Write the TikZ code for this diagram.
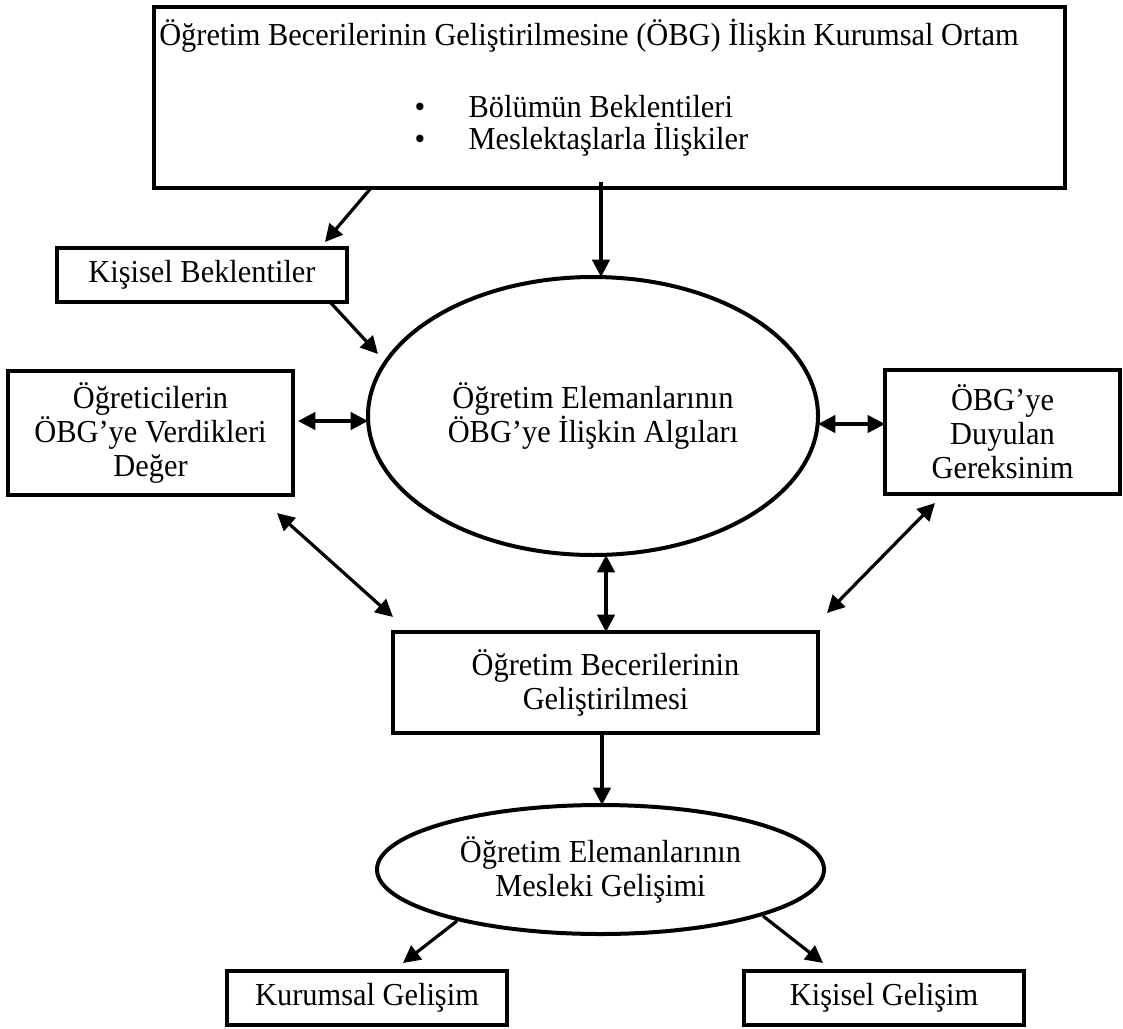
\documentclass[tikz,border=0pt]{standalone}
\usepackage{fontspec}
\setmainfont{Liberation Serif}[FakeStretch=0.95]
\usetikzlibrary{arrows.meta, shapes.geometric}

\begin{document}
\begin{tikzpicture}[x=0.75pt, y=-0.75pt, >={Triangle[length=13pt, width=13pt]},
  kutu/.style={draw, line width=3pt, rectangle, align=center, inner sep=0pt},
  elips/.style={draw, line width=3pt, ellipse, align=center, inner sep=0pt},
  ok/.style={line width=2.4pt},
  every node/.style={font=\fontsize{24}{25.5}\selectfont}]
\useasboundingbox (0,0) rectangle (1123,1028);
% kutular ve elipsler
\node[kutu, minimum width=683pt, minimum height=136pt] (ortam) at (609.5,97.5) {};
\node[anchor=base] (baslik) at (589,45) {Öğretim Becerilerinin Geliştirilmesine (ÖBG) İlişkin Kurumsal Ortam};
\node[anchor=base] (m1) at (420,117) {•};
\node[anchor=base west] (b1) at (464,117) {Bölümün Beklentileri};
\node[anchor=base] (m2) at (420,149) {•};
\node[anchor=base west] (b2) at (464,149) {Meslektaşlarla İlişkiler};
\node[kutu, minimum width=217.5pt, minimum height=40.5pt] (kbek) at (202,275) {Kişisel Beklentiler};
\node[kutu, minimum width=213.75pt, minimum height=93pt] (deger) at (150.5,433) {Öğreticilerin\\ÖBG’ye Verdikleri\\Değer};
\node[elips, minimum width=337.5pt, minimum height=208.5pt] (algi) at (593,416) {Öğretim Elemanlarının\\ÖBG’ye İlişkin Algıları};
\node[kutu, minimum width=176.25pt, minimum height=93pt] (gerek) at (1002.5,432) {ÖBG’ye\\Duyulan\\Gereksinim};
\node[kutu, minimum width=318.75pt, minimum height=75.75pt] (obg) at (605.5,682.5) {Öğretim Becerilerinin\\Geliştirilmesi};
\node[elips, minimum width=335.25pt, minimum height=96.75pt] (mesleki) at (600.5,869.5) {Öğretim Elemanlarının\\Mesleki Gelişimi};
\node[kutu, minimum width=210pt, minimum height=40.5pt] (kurum) at (367,998) {Kurumsal Gelişim};
\node[kutu, minimum width=210pt, minimum height=40.5pt] (kisi) at (884,998) {Kişisel Gelişim};
% ok uclari
\coordinate (o1) at (371,188);  \coordinate (k1) at (325,242);
\coordinate (o2) at (601,182);  \coordinate (a2) at (601,277);
\coordinate (k3) at (330,302);  \coordinate (a3) at (378,354);
\coordinate (d4) at (298,421);  \coordinate (a4) at (368,421);
\coordinate (a5) at (818,424);  \coordinate (g5) at (885,424);
\coordinate (d6) at (277,513);  \coordinate (b6) at (393,617);
\coordinate (g7) at (935,503);  \coordinate (b7) at (827,613);
\coordinate (a8) at (606,555);  \coordinate (b8) at (606,632);
\coordinate (b9) at (602,733);  \coordinate (m9) at (602,805);
\coordinate (m10) at (457,921); \coordinate (u10) at (403,963);
\coordinate (m11) at (763,916); \coordinate (s11) at (823,963);
% oklar
\draw[ok, ->] (o1) -- (k1);
\draw[ok, ->] (o2) -- (a2);
\draw[ok, ->] (k3) -- (a3);
\draw[ok, <->] (d4) -- (a4);
\draw[ok, <->] (a5) -- (g5);
\draw[ok, <->] (d6) -- (b6);
\draw[ok, <->] (g7) -- (b7);
\draw[ok, <->] (a8) -- (b8);
\draw[ok, ->] (b9) -- (m9);
\draw[ok, ->] (m10) -- (u10);
\draw[ok, ->] (m11) -- (s11);
\end{tikzpicture}
\end{document}
